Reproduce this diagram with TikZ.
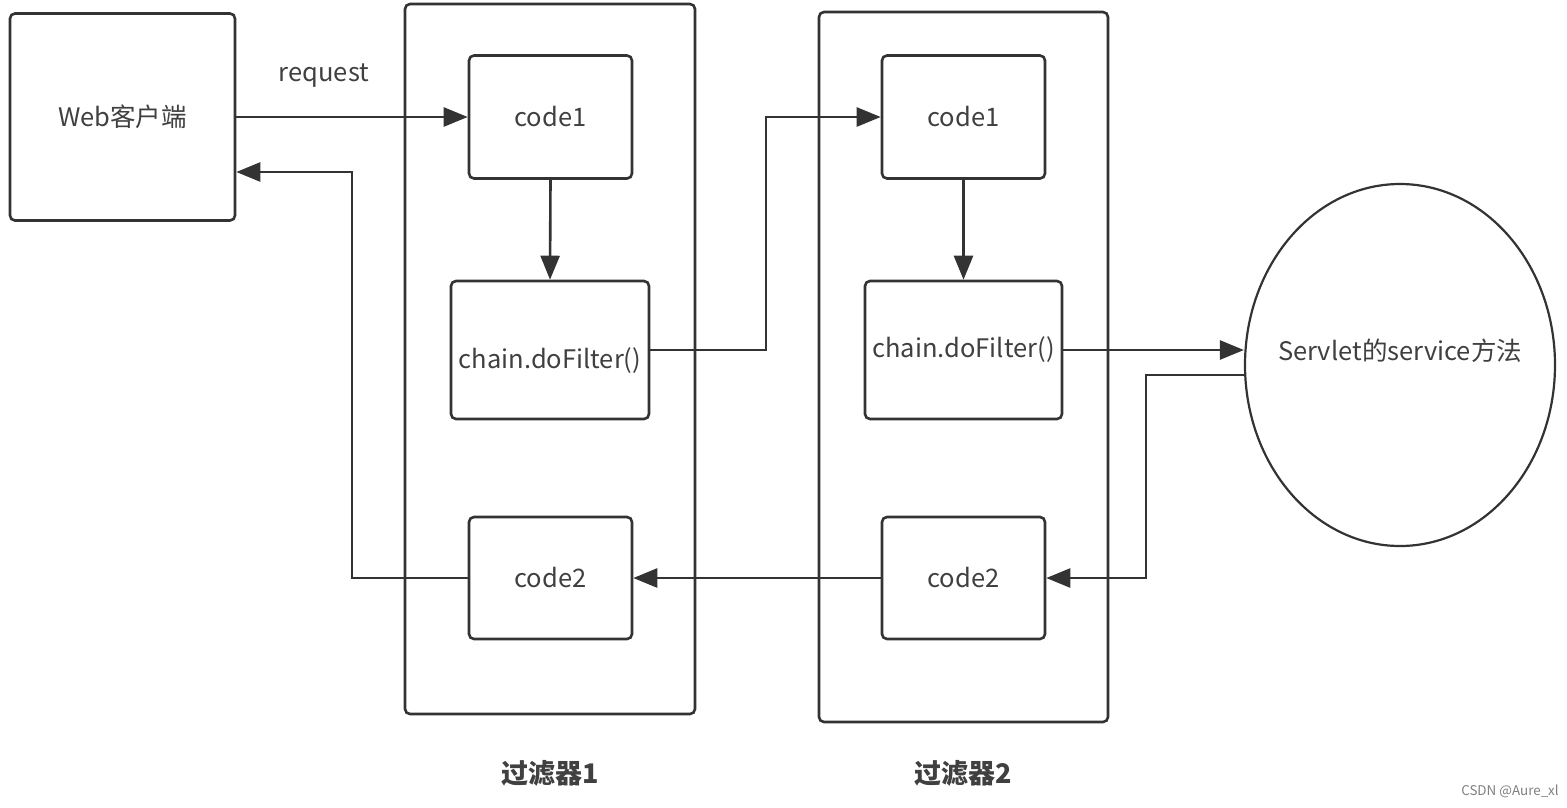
\documentclass[tikz,border=0pt]{standalone}
\usepackage{fontspec}
\setmainfont{Noto Sans CJK SC}
\usetikzlibrary{arrows.meta,shapes.geometric}
\definecolor{ln}{HTML}{333333}
\definecolor{tx}{HTML}{404040}
\tikzset{
  box/.style={draw=ln, line width=2.6pt, rounded corners=5pt, fill=white, text=tx, font=\fontsize{25.5}{30}\selectfont, inner sep=0pt},
  outer/.style={draw=ln, line width=2.6pt, rounded corners=5pt, inner sep=0pt},
  arr/.style={draw=ln, line width=2.6pt, -{Triangle[length=24pt,width=19pt]}},
  lbl/.style={text=tx, font=\fontsize{25.5}{30}\selectfont, inner sep=0pt},
}
\begin{document}
\begin{tikzpicture}[x=1pt,y=-1pt]
\useasboundingbox[fill=white] (0,0) rectangle (1567,807);
% filter frames
\node[outer, minimum width=290, minimum height=710] (f1) at (550,359) {};
\node[outer, minimum width=289, minimum height=710] (f2) at (963.5,367) {};
% web client
\node[box, minimum width=225, minimum height=207] (web) at (122.5,117) {Web客户端};
% filter 1 boxes
\node[box, minimum width=163, minimum height=123] (c11) at (550.5,117) {code1};
\node[box, minimum width=198, minimum height=138] (ch1) at (550,350) {\raisebox{-11pt}[\height][\depth]{chain.doFilter()}};
\node[box, minimum width=163, minimum height=122] (c21) at (550.5,578) {code2};
% filter 2 boxes
\node[box, minimum width=163, minimum height=123] (c12) at (963.5,117) {code1};
\node[box, minimum width=197, minimum height=138] (ch2) at (963.5,350) {chain.doFilter()};
\node[box, minimum width=163, minimum height=122] (c22) at (963.5,578) {code2};
% servlet
\node[draw=ln, line width=2.2pt, ellipse, minimum width=310, minimum height=362, inner sep=0pt, text=tx, font=\fontsize{25.5}{30}\selectfont] (srv) at (1400,365) {\makebox[0pt]{\raisebox{5pt}[0pt][0pt]{Servlet的service方法}}};
% labels
\node[lbl] (req) at (324,76) {request};
\node[lbl, font=\fontsize{27}{30}\selectfont\bfseries] (l1) at (550,773) {过滤器1};
\node[lbl, font=\fontsize{27}{30}\selectfont\bfseries] (l2) at (963,773) {过滤器2};
\node[text=gray, font=\fontsize{13.4}{15}\selectfont, inner sep=0pt] (wm) at (1510,791) {CSDN @Aure\_xl};
% connectors
\coordinate (r1) at (352,172);
\coordinate (u1) at (766,117);
\coordinate (r2) at (1146,578);
\draw[arr] (web.east) -- (c11.west);
\draw[arr] (c11.south) -- (ch1.north);
\draw[arr] (ch1.east) -| (u1) -- (c12.west);
\draw[arr] (c12.south) -- (ch2.north);
\draw[arr] (ch2.east) -- (ch2.east -| srv.west);
\draw[arr] (srv.west |- 0,375) -| (r2) -- (c22.east);
\draw[arr] (c22.west) -- (c21.east);
\draw[arr] (c21.west) -| (r1) -- (web.east |- r1);
\end{tikzpicture}
\end{document}
